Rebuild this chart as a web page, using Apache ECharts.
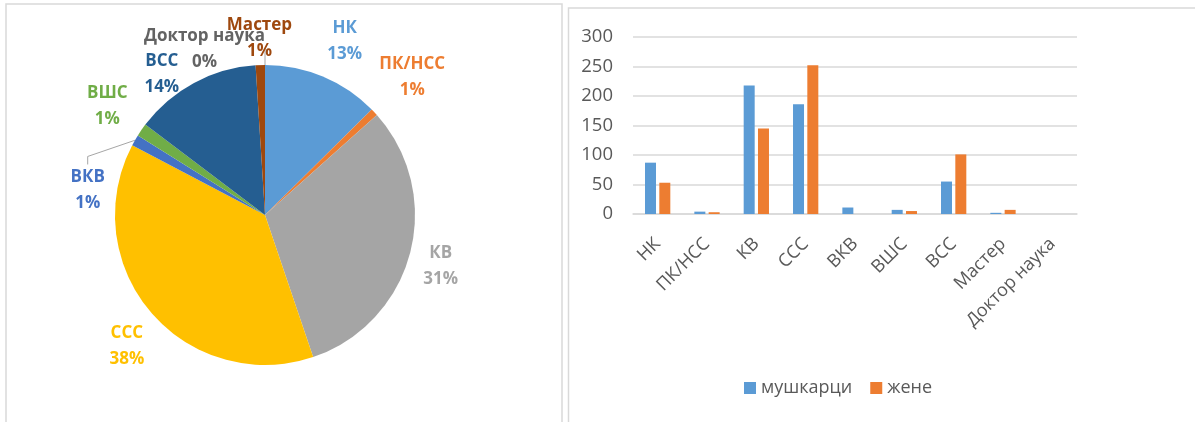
<!DOCTYPE html>
<html>
<head>
<meta charset="utf-8">
<script src="https://cdn.jsdelivr.net/npm/echarts@6/dist/echarts.min.js"></script>
<style>
html,body{margin:0;padding:0;background:#fff;}
#c{width:1195px;height:422px;}
</style>
</head>
<body>
<div id="c"></div>
<script>
// ---- data ----
const categories = ['НК', 'ПК/НСС', 'КВ', 'ССС', 'ВКВ', 'ВШС', 'ВСС', 'Мастер', 'Доктор наука'];
const men   = [87, 4, 218, 186, 11, 7, 55, 2, 0];
const women = [53, 3, 145, 252, 0, 5, 101, 7, 0];
const pieShare = [12.6, 0.8, 31.4, 37.9, 1.2, 1.4, 13.7, 1.0, 0];
const yTicks = [0, 50, 100, 150, 200, 250, 300];
const seriesNames = ['мушкарци', 'жене'];

// ---- styles ----
const sliceColors = ['#5B9BD5', '#ED7D31', '#A5A5A5', '#FFC000', '#4472C4', '#70AD47', '#255E91', '#9E480E', '#636363'];
const barColors = ['#5B9BD5', '#ED7D31'];
const FONT = '"Open Sans", "Noto Sans", sans-serif';
const PIE_CX = 265, PIE_CY = 215, PIE_R = 150, LABEL_GAP = 10;
const labelAngleShift = {0: 2, 2: 1.5, 3: -3, 4: -22, 6: -8, 8: -20};
const labelGapShift = {6: -17, 7: -10, 8: -20};
const leaderLineIdx = {4: true, 8: true};

const chart = echarts.init(document.getElementById('c'), null, {renderer: 'canvas'});

const total = pieShare.reduce((a, b) => a + b, 0);
const midAngles = [];
let cum = 0;
pieShare.forEach(v => { midAngles.push((cum + v / 2) / total * 360); cum += v; });

function placeLabel(p) {
  const i = p.dataIndex;
  const a = (midAngles[i] + (labelAngleShift[i] || 0)) * Math.PI / 180;
  const s = Math.sin(a), c = Math.cos(a);
  const w = p.labelRect.width, h = p.labelRect.height;
  const gap = LABEL_GAP + (labelGapShift[i] || 0);
  let d = PIE_R - 60;
  for (; d < PIE_R + 200; d += 0.5) {
    const bx = PIE_CX + d * s, by = PIE_CY - d * c;
    const dx = Math.max(Math.abs(bx - PIE_CX) - w / 2, 0);
    const dy = Math.max(Math.abs(by - PIE_CY) - h / 2, 0);
    if (Math.hypot(dx, dy) >= PIE_R + gap) break;
  }
  return {x: PIE_CX + d * s, y: PIE_CY - d * c, align: 'center', verticalAlign: 'middle'};
}

const pieData = categories.map((name, i) => ({
  name: name,
  value: pieShare[i],
  itemStyle: {color: sliceColors[i]},
  label: {color: sliceColors[i]},
  labelLine: {show: !!leaderLineIdx[i]}
}));

const option = {
  animation: false,
  backgroundColor: '#ffffff',
  textStyle: {fontFamily: FONT},
  graphic: [
    {type: 'rect', shape: {x: 6, y: 4, width: 556, height: 440}, style: {fill: 'none', stroke: '#d9d9d9', lineWidth: 1.5}, silent: true},
    {type: 'rect', shape: {x: 568.5, y: 8, width: 640, height: 440}, style: {fill: 'none', stroke: '#d9d9d9', lineWidth: 1.5}, silent: true}
  ],
  legend: {
    data: seriesNames,
    left: 739,
    top: 374,
    icon: 'rect',
    itemWidth: 12,
    itemHeight: 12,
    itemGap: 18,
    textStyle: {color: '#595959', fontSize: 18, fontFamily: FONT}
  },
  grid: {left: 633, right: 118, top: 37, bottom: 208, containLabel: false, outerBoundsMode: 'none'},
  xAxis: {
    type: 'category',
    data: categories,
    axisTick: {show: false},
    axisLine: {lineStyle: {color: '#d9d9d9', width: 1.5}},
    axisLabel: {rotate: 45, margin: 27, color: '#595959', fontSize: 18, fontFamily: FONT, interval: 0}
  },
  yAxis: {
    type: 'value',
    min: yTicks[0],
    max: yTicks[yTicks.length - 1],
    interval: yTicks[1] - yTicks[0],
    axisLine: {show: false},
    axisTick: {show: false},
    splitLine: {lineStyle: {color: '#d9d9d9', width: 1.5}},
    axisLabel: {color: '#595959', fontSize: 18.5, margin: 20, fontFamily: FONT}
  },
  series: [
    {
      type: 'pie',
      center: [PIE_CX, PIE_CY],
      radius: PIE_R,
      startAngle: 90,
      clockwise: true,
      avoidLabelOverlap: false,
      itemStyle: {borderWidth: 0},
      label: {
        show: true,
        position: 'outside',
        formatter: p => p.name + '\n' + Math.round(p.percent) + '%',
        fontSize: 17,
        fontWeight: 'bold',
        lineHeight: 26,
        fontFamily: FONT
      },
      labelLine: {length: 8, length2: 8, lineStyle: {color: '#a6a6a6', width: 1}},
      labelLayout: placeLabel,
      data: pieData
    },
    {
      name: seriesNames[0],
      type: 'bar',
      data: men,
      barWidth: 11,
      barGap: '30%',
      itemStyle: {color: barColors[0]}
    },
    {
      name: seriesNames[1],
      type: 'bar',
      data: women,
      barWidth: 11,
      barGap: '30%',
      itemStyle: {color: barColors[1]}
    }
  ]
};
chart.setOption(option);
</script>
</body>
</html>
